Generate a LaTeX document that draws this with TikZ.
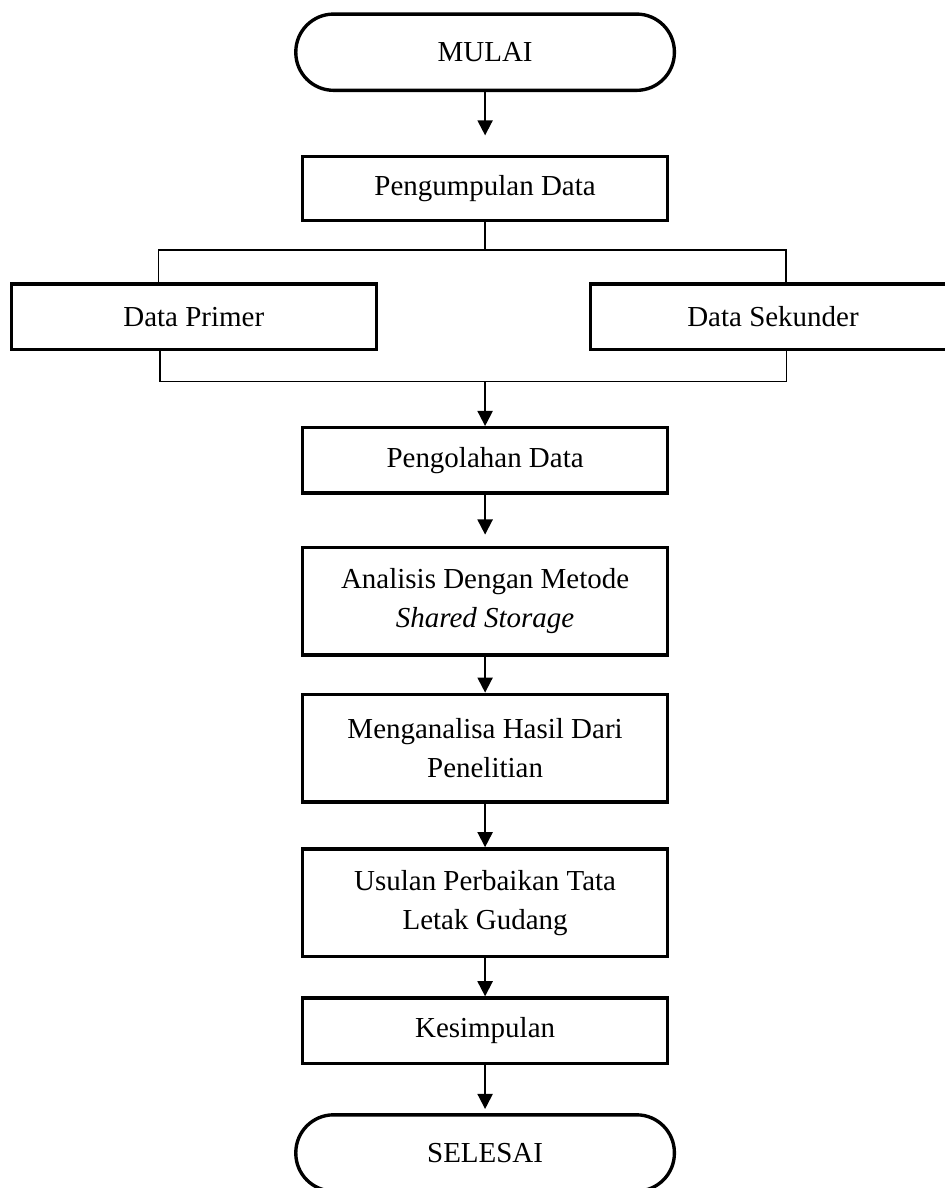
\documentclass[tikz,border=0pt]{standalone}
\usepackage{fontspec}
\setmainfont{Liberation Serif}
\usetikzlibrary{arrows.meta, positioning}

\begin{document}
\begin{tikzpicture}[>={Triangle[length=0.22cm, width=0.22cm]},
  font=\fontsize{12}{16}\selectfont,
  box/.style={draw, line width=1.4pt, minimum width=5.31cm, minimum height=0.95cm, align=center, inner sep=0pt},
  tallbox/.style={box, minimum height=1.57cm},
  terminal/.style={draw, line width=1.4pt, rounded corners=0.55cm, minimum width=5.51cm, minimum height=1.11cm},
  arrow/.style={->, line width=0.8pt},
  branch/.style={line width=0.5pt}]
  \useasboundingbox (0,0) rectangle (13.75,17.29);

  % Alur penelitian
  \node[terminal] (mulai) at (7.06,16.53) {MULAI};
  \node[box, minimum height=0.93cm] (kumpul) at (7.06,14.55) {Pengumpulan Data};
  \node[box] (primer) at (2.82,12.68) {Data Primer};
  \node[box] (sekunder) at (11.25,12.68) {Data Sekunder};
  \node[box] (olah) at (7.06,10.59) {Pengolahan Data};
  \node[tallbox] (analisis) at (7.06,8.54) {Analisis Dengan Metode\\\textit{Shared Storage}};
  \node[tallbox] (hasil) at (7.06,6.40) {Menganalisa Hasil Dari\\Penelitian};
  \node[tallbox] (usulan) at (7.06,4.15) {Usulan Perbaikan Tata\\Letak Gudang};
  \node[box] (simpul) at (7.06,2.29) {Kesimpulan};
  \node[terminal] (selesai) at (7.06,0.51) {SELESAI};

  % Percabangan data
  \coordinate (pisah) at (7.06,13.65);
  \coordinate (pisahL) at (2.31,13.65);
  \coordinate (pisahR) at (11.44,13.65);
  \coordinate (gabung) at (7.06,11.74);
  \coordinate (gabungL) at (2.33,11.74);
  \coordinate (gabungR) at (11.45,11.74);

  \draw[arrow, shorten >=0.28cm] (mulai) -- (kumpul);
  \draw[branch] (kumpul) -- (pisah);
  \draw[branch] (primer.north -| pisahL) -- (pisahL) -- (pisahR) -- (sekunder.north -| pisahR);
  \draw[branch] (primer.south -| gabungL) -- (gabungL) -- (gabungR) -- (sekunder.south -| gabungR);
  \draw[arrow] (gabung) -- (olah);
  \draw[arrow, shorten >=0.16cm] (olah) -- (analisis);
  \draw[arrow] (analisis) -- (hasil);
  \draw[arrow] (hasil) -- (usulan);
  \draw[arrow] (usulan) -- (simpul);
  \draw[arrow, shorten >=0.06cm] (simpul) -- (selesai);
\end{tikzpicture}
\end{document}
